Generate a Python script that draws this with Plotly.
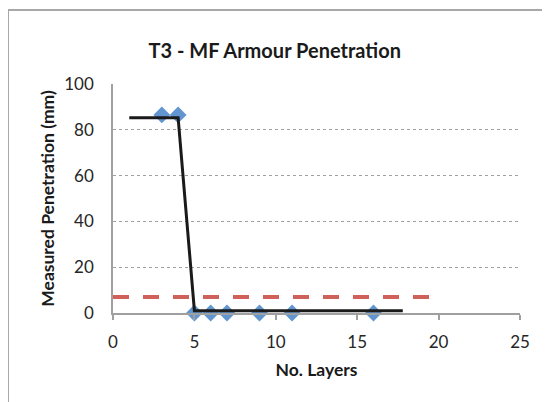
import plotly.graph_objects as go

# Data
layers = [3, 4, 5, 6, 7, 9, 11, 16]
penetration = [86.5, 86.5, 0, 0, 0, 0, 0, 0]

fit_x = [1, 4, 5, 17.8]
fit_y = [85.3, 85.3, 1, 1]

limit_x = [0, 20]
limit_y = [7, 7]

x_ticks = [0, 5, 10, 15, 20, 25]
y_ticks = [0, 20, 40, 60, 80, 100]

FONT = "Lato"

fig = go.Figure()

fig.add_trace(go.Scatter(
    x=limit_x, y=limit_y, mode="lines",
    line=dict(color="#d0605a", width=4, dash="16px,14px"),
    showlegend=False, hoverinfo="skip"))

fig.add_trace(go.Scatter(
    x=layers, y=penetration, mode="markers",
    marker=dict(symbol="diamond", size=13, color="#6196d0",
                line=dict(width=0)),
    cliponaxis=False, showlegend=False))

fig.add_trace(go.Scatter(
    x=fit_x, y=fit_y, mode="lines",
    line=dict(color="#1a1a1a", width=3),
    cliponaxis=False, showlegend=False))

fig.update_layout(
    width=550, height=402,
    margin=dict(l=105, r=38, t=76, b=97),
    paper_bgcolor="white", plot_bgcolor="white",
    font=dict(family=FONT, size=17, color="#262626"),
    title=dict(text="<b>T3 - MF Armour Penetration</b>",
               font=dict(family=FONT, size=20, color="#1a1a1a"),
               x=0.485, xanchor="center", y=0.893, yanchor="middle"),
    xaxis=dict(range=[0, 25], tickvals=x_ticks, showgrid=False,
               zeroline=False, showline=True, linecolor="#a0a0a0",
               linewidth=1.5, ticks="outside", ticklen=5,
               tickcolor="#a0a0a0", tickwidth=1.5,
               ticklabelstandoff=8,
               tickfont=dict(size=17),
               title=dict(text="<b>No. Layers</b>",
                          font=dict(size=17.5, color="#1a1a1a"),
                          standoff=13)),
    yaxis=dict(range=[0, 100], tickvals=y_ticks, showgrid=True,
               gridcolor="#a0a0a0", griddash="dot", gridwidth=1,
               zeroline=False, showline=True, linecolor="#a0a0a0",
               linewidth=1.5, ticks="",
               ticklabelstandoff=14,
               tickfont=dict(size=17),
               title=dict(text="<b>Measured Penetration (mm)</b>",
                          font=dict(size=17.5, color="#1a1a1a"),
                          standoff=5)),
    shapes=[dict(type="rect", xref="paper", yref="paper",
                 x0=-0.258, x1=1.5, y0=-0.6, y1=1.323,
                 line=dict(color="#a8a8a8", width=2), layer="below")],
)

fig.write_html("out.html")
